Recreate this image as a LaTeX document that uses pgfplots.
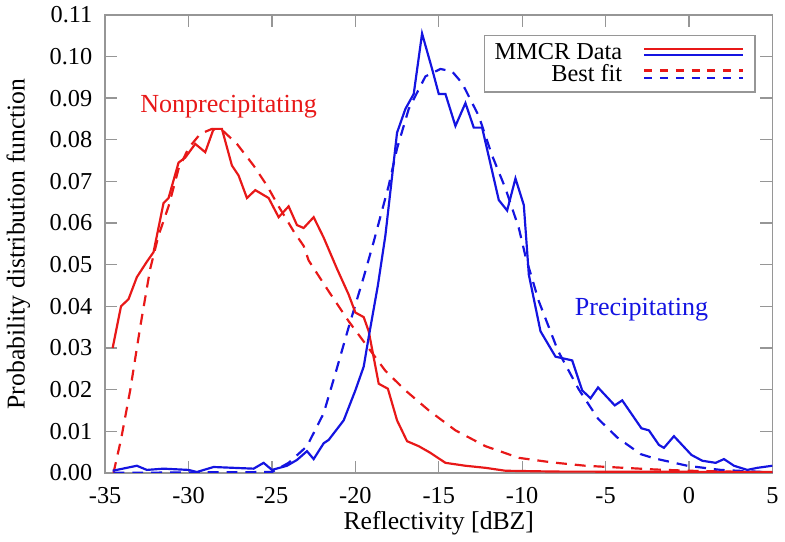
\documentclass[border=0pt]{standalone}
\usepackage{pgfplots}
\pgfplotsset{compat=1.18}
\usepackage{fontspec}
\setmainfont{Liberation Serif}
\definecolor{cred}{RGB}{232,24,24}
\definecolor{cblue}{RGB}{20,20,225}
\definecolor{cgray}{RGB}{150,150,150}
\pgfplotstableread{
x y
-34.55 0.030
-34.05 0.040
-33.6 0.0417
-33.1 0.047
-32.5 0.0507
-32.1 0.053
-31.5 0.0648
-31.2 0.066
-30.6 0.0745
-30.2 0.0757
-29.6 0.079
-29.0 0.077
-28.5 0.0826
-28.0 0.0826
-27.4 0.0738
-27.0 0.0714
-26.5 0.066
-26.0 0.0679
-25.2 0.066
-24.6 0.0614
-24.0 0.064
-23.5 0.0595
-23.1 0.0588
-22.5 0.0614
-21.9 0.0565
-21.1 0.049
-20.4 0.0428
-20.0 0.0385
-19.5 0.0374
-19.2 0.034
-18.6 0.0214
-18.05 0.0202
-17.5 0.0126
-16.9 0.0076
-16.2 0.0064
-15.5 0.0048
-14.6 0.0024
-13.4 0.0017
-12.2 0.0012
-11.0 0.0005
-8.0 0.0003
5.0 0.0002
}\redData
\pgfplotstableread{
x y
-34.5 0.0
-34.05 0.008
-33.5 0.0198
-32.9 0.035
-32.3 0.049
-31.8 0.057
-31.2 0.064
-30.6 0.073
-30.0 0.078
-29.3 0.0814
-28.6 0.0826
-27.9 0.082
-27.1 0.079
-26.1 0.0738
-25.3 0.069
-24.6 0.064
-23.7 0.058
-23.1 0.0545
-22.8 0.051
-21.6 0.0436
-20.4 0.0364
-19.4 0.031
-18.2 0.0245
-17.0 0.0198
-15.6 0.015
-14.0 0.0102
-12.2 0.0064
-10.2 0.0036
-8.2 0.0025
-6.2 0.0017
-3.9 0.0012
-2.0 0.0008
0.0 0.0005
5.0 0.0001
}\redFit
\pgfplotstableread{
x y
-34.55 0.0005
-33.1 0.0017
-32.5 0.0007
-31.5 0.001
-30.0 0.0007
-29.5 0.0002
-28.5 0.0014
-26.1 0.001
-25.5 0.0024
-25.0 0.0007
-24.1 0.0017
-23.5 0.0031
-22.9 0.0052
-22.5 0.0033
-21.9 0.0071
-21.6 0.0079
-20.7 0.0126
-20.0 0.0198
-19.5 0.0255
-19.2 0.0326
-18.65 0.045
-18.2 0.057
-17.5 0.0817
-17.0 0.0874
-16.5 0.091
-16.0 0.1055
-15.4 0.097
-15.0 0.091
-14.6 0.091
-14.0 0.0833
-13.4 0.0888
-12.9 0.0829
-12.4 0.0829
-11.4 0.0655
-10.9 0.063
-10.4 0.0707
-9.9 0.0643
-9.6 0.0476
-8.9 0.034
-8.0 0.0279
-7.0 0.027
-6.4 0.0198
-5.9 0.0179
-5.45 0.0205
-4.45 0.0162
-4.0 0.0174
-2.85 0.0107
-2.4 0.0102
-1.8 0.0067
-1.5 0.006
-0.9 0.0088
0.15 0.0043
0.8 0.0029
1.6 0.0024
2.1 0.0033
2.7 0.0017
3.5 0.0007
4.1 0.0012
5.0 0.0017
}\blueData
\pgfplotstableread{
x y
-34.5 0.0
-25.0 0.0002
-24.0 0.0024
-22.9 0.0064
-21.9 0.0143
-21.2 0.0238
-20.4 0.035
-19.5 0.047
-18.9 0.0555
-18.0 0.069
-17.5 0.0779
-16.8 0.0874
-15.8 0.0952
-14.9 0.097
-14.2 0.0964
-13.6 0.0936
-12.6 0.0857
-11.8 0.0762
-11.0 0.0683
-10.2 0.0588
-9.8 0.052
-9.0 0.0412
-7.85 0.0293
-6.6 0.0200
-5.45 0.0130
-4.3 0.0085
-2.9 0.0045
-2.1 0.0035
-0.1 0.0017
1.9 0.0007
5.0 0.0001
}\blueFit
\begin{document}
\begin{tikzpicture}
\begin{axis}[
  scale only axis,
  width=336.5bp, height=231bp,
  xmin=-35, xmax=5, ymin=0, ymax=0.11,
  xtick={-35,-30,...,5},
  ytick={0,0.01,...,0.11},
  yticklabel style={xshift=-3bp, /pgf/number format/fixed, /pgf/number format/fixed zerofill, /pgf/number format/precision=2},
  /pgf/number format/assume math mode=true,
  tick align=inside,
  major tick length=6bp,
  tick style={cgray, line width=0.6bp},
  axis line style={cgray, line width=0.7bp},
  ticklabel style={font=\fontsize{12.3}{14}\selectfont},
  xticklabel style={yshift=-4bp},
  label style={font=\fontsize{13}{15}\selectfont},
  xlabel={Reflectivity [dBZ]},
  ylabel={Probability distribution function},
  xlabel style={yshift=3bp},
  ylabel style={yshift=3bp},
  legend style={at={(0.975,0.957)}, anchor=north east, draw=cgray, line width=0.6bp,
    font=\fontsize{12.3}{12}\selectfont, cells={anchor=east}, row sep=-3bp,
    inner xsep=3bp, inner ysep=2bp},
  legend plot pos=right,
  clip=true,
]
\addlegendimage{legend image code/.code={
  \path[draw=none, fill=none] (0bp,-3bp) rectangle (62bp,3bp);
  \draw[cred, line width=1.1bp] (9bp,1.6bp) -- (59bp,1.6bp);
  \draw[cblue, line width=1.1bp] (9bp,-1.4bp) -- (59bp,-1.4bp);}}
\addlegendentry{MMCR Data}
\addlegendimage{legend image code/.code={
  \path[draw=none, fill=none] (0bp,-3bp) rectangle (62bp,3bp);
  \draw[cred, line width=1.1bp, dash pattern=on 4bp off 4bp] (9bp,1.8bp) -- (59bp,1.8bp);
  \draw[cblue, line width=1.1bp, dash pattern=on 4bp off 4bp] (9bp,-1.8bp) -- (59bp,-1.8bp);}}
\addlegendentry{Best fit}
\addplot[forget plot, cred, line width=1.1bp, dash pattern=on 5.5bp off 4bp] table {\redFit};
\addplot[forget plot, cblue, line width=1.1bp, dash pattern=on 5.5bp off 4bp] table {\blueFit};
\addplot[forget plot, cred, line width=1.1bp] table {\redData};
\addplot[forget plot, cblue, line width=1.1bp] table {\blueData};
\node[cred, font=\fontsize{13.2}{15}\selectfont] at (axis cs:-27.6,0.088) {Nonprecipitating};
\node[cblue, font=\fontsize{13.2}{15}\selectfont] at (axis cs:-2.84,0.0393) {Precipitating};
\end{axis}
\end{tikzpicture}
\end{document}
